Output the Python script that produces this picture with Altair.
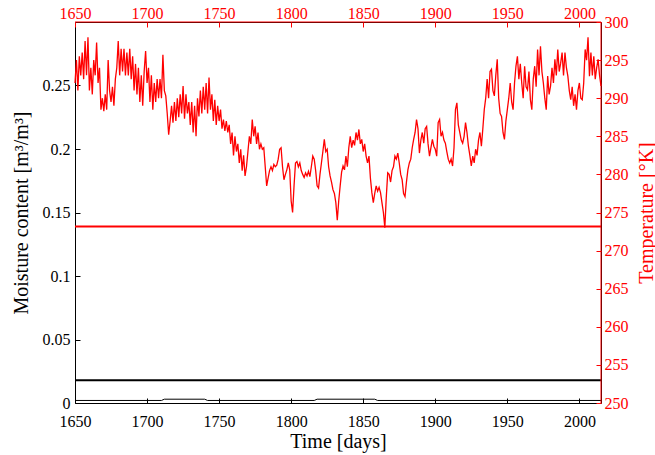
import altair as alt
import pandas as pd

# ---------------- data ----------------
days = list(range(1650, 2016))
temperature = [
    292, 295, 291, 295.5, 293, 296, 292.5, 297.5, 293, 298,
    291, 294, 290.5, 295, 293, 297.3, 292, 294, 288.5, 290,
    288.3, 290.5, 288.5, 295, 291, 289.5, 291.5, 289, 292.5, 294,
    297.5, 293, 296.5, 293.5, 296.5, 293, 296, 293, 296.5, 292.5,
    295.5, 291, 294.5, 290.5, 294, 289.5, 293, 289, 293.5, 296.2,
    292, 294, 289.5, 293, 288.5, 292, 289.5, 292.5, 290, 292.5,
    290, 295.7, 291, 290.3, 288, 285.2, 287, 289, 286.8, 289.5,
    287, 290, 287.5, 290.5, 288, 291.6, 287.3, 290.5, 288, 289.5,
    286.5, 289.5, 285.5, 289, 285, 290, 287.6, 291, 288, 291.5,
    288.5, 292, 288, 292.7, 288.5, 290.5, 287, 289.8, 286.5, 289,
    287, 288.5, 286, 287.2, 285.7, 287, 285.5, 286.5, 284, 285.5,
    282.5, 285, 283, 284, 281.5, 283.3, 280.5, 282.5, 279.8, 281,
    283, 285, 284, 287.2, 285, 286.3, 284, 285.5, 283.3, 284,
    283.3, 283.5, 281, 278.5, 279.5, 280.5, 281, 280.5, 281.3, 281,
    281.2, 282, 283.3, 283.5, 281, 279.3, 280, 280.6, 281.5, 280.6,
    276.5, 275, 278.5, 281.5, 281.7, 281, 281.5, 280.5, 280, 279.6,
    280.2, 279.8, 280.4, 279.7, 281, 282.4, 282, 280.5, 278.5, 278.2,
    280, 281.5, 283, 284.6, 283, 283.3, 281, 279.8, 279, 278,
    277.5, 276.3, 274, 276.5, 278.5, 280.3, 281.1, 280.6, 282.4, 281,
    283.5, 285, 283.5, 284.5, 283.8, 285.5, 284.5, 285.9, 284, 284.6,
    283, 284, 282.4, 281.5, 282.4, 279.5, 277.6, 276.3, 277.5, 278.5,
    277.8, 278.3, 277.6, 276.3, 275, 273, 277, 280.2, 280, 279,
    280.5, 281, 282.4, 282, 282.8, 281.5, 280, 279.3, 277.5, 277.1,
    279, 280.6, 281.5, 282, 283.5, 284.6, 285.5, 287.2, 286, 282.8,
    284.5, 285.5, 284.1, 286, 286.3, 284, 282.4, 283.5, 284.6, 283.7,
    283.3, 282.4, 286.8, 287.2, 285, 285.5, 284.5, 284.1, 283, 282,
    281.5, 282, 281.1, 283.5, 288.5, 289.4, 286.5, 285.5, 284.5, 284.1,
    285, 286.8, 285.5, 283.7, 282.5, 281.1, 282.4, 281.5, 283.3, 282.5,
    284.5, 285.5, 283.7, 286, 288.5, 290, 292.5, 290, 293.5, 293.8,
    291, 290.3, 293, 295.1, 290, 288, 287.6, 285.5, 284.6, 287,
    288.5, 290, 292, 289.5, 288.5, 292, 294.2, 295.5, 292.5, 294.5,
    292, 290, 294.2, 291.5, 291.1, 293.5, 289.8, 288.5, 292.5, 294.2,
    291.5, 296.4, 293, 296.8, 293.5, 292, 290, 288.5, 292.9, 290.5,
    291.6, 294, 292, 295.1, 293, 296.4, 293.5, 294.6, 296, 293,
    296, 294, 292.9, 291, 289.8, 291.5, 289, 290.5, 288.5, 291,
    292, 290, 289.8, 292, 296.4, 295, 298, 292.9, 296, 293,
    295.5, 292.5, 294, 295.1, 293, 291.6,
]
assert len(temperature) == len(days)

moist_days = [1650, 1710, 1712, 1740, 1742, 1816, 1818, 1858, 1860, 2015]
moisture = [0.002, 0.002, 0.003, 0.003, 0.002, 0.002, 0.003, 0.003, 0.002, 0.002]

limit_days = [1650, 2015]
moisture_limit = [0.018, 0.018]
freezing_temp = [273.15, 273.15]

x_ticks = [1650, 1700, 1750, 1800, 1850, 1900, 1950, 2000]
m_ticks = [0, 0.05, 0.1, 0.15, 0.2, 0.25]
t_ticks = [250, 255, 260, 265, 270, 275, 280, 285, 290, 295, 300]

FONT = "Liberation Serif"
RED = "#ff0000"

x_dom = [1650, 2015]
m_dom = [0, 0.3]
t_dom = [250, 300]

# red frame (top and right sides) in data coordinates of the temperature axes
border_day = [x_dom[0], x_dom[1], x_dom[1]]
border_temp = [t_dom[1], t_dom[1], t_dom[0]]

temp_df = pd.DataFrame({"day": days, "temp": temperature})
moist_df = pd.DataFrame({"day": moist_days, "moist": moisture})
mlim_df = pd.DataFrame({"day": limit_days, "moist": moisture_limit})
frz_df = pd.DataFrame({"day": limit_days, "temp": freezing_temp})
border_df = pd.DataFrame({"day": border_day, "temp": border_temp})

common = dict(offset=-5, domain=False, tickSize=5, labelFlush=False,
              labelOverlap=False, grid=False)

# ---------------- moisture (left / bottom) ----------------
x_bottom = alt.X(
    "day:Q",
    scale=alt.Scale(domain=x_dom, nice=False, zero=False),
    axis=alt.Axis(orient="bottom", values=x_ticks, format="d",
                  tickColor="black", labelColor="black", labelPadding=10,
                  title="Time [days]", titleColor="black", titlePadding=2,
                  **common),
)
y_left = alt.Y(
    "moist:Q",
    scale=alt.Scale(domain=m_dom, nice=False),
    axis=alt.Axis(orient="left", values=m_ticks, format=".2~f",
                  tickColor="black", labelColor="black", labelPadding=5,
                  title="Moisture content [m³/m³]", titleColor="black",
                  titlePadding=11, **common),
)

moist_line = alt.Chart(moist_df).mark_line(color="black", strokeWidth=1).encode(
    x=x_bottom, y=y_left)
mlim_line = alt.Chart(mlim_df).mark_line(color="black", strokeWidth=2).encode(
    x=x_bottom, y=y_left)
moist_layer = alt.layer(moist_line, mlim_line)

# ---------------- temperature (right / top) ----------------
x_top = alt.X(
    "day:Q",
    scale=alt.Scale(domain=x_dom, nice=False, zero=False),
    axis=alt.Axis(orient="top", values=x_ticks, format="d",
                  tickColor=RED, labelColor=RED, labelPadding=1, title=None,
                  **common),
)
y_right = alt.Y(
    "temp:Q",
    scale=alt.Scale(domain=t_dom, nice=False, zero=False),
    axis=alt.Axis(orient="right", values=t_ticks, format="d",
                  tickColor=RED, labelColor=RED, labelPadding=3,
                  title="Temperature [°K]", titleColor=RED, titleAngle=270,
                  titleBaseline="top", titlePadding=8, **common),
)

temp_line = alt.Chart(temp_df).mark_line(color=RED, strokeWidth=1.3).encode(
    x=x_top, y=y_right)
frz_line = alt.Chart(frz_df).mark_line(color=RED, strokeWidth=2).encode(
    x=x_top, y=y_right)
border_line = alt.Chart(border_df).mark_line(color=RED, strokeWidth=1).encode(
    x=x_top, y=y_right)
temp_layer = alt.layer(temp_line, frz_line, border_line)

chart = (
    alt.layer(moist_layer, temp_layer)
    .resolve_scale(x="independent", y="independent")
    .properties(
        width=526, height=381,
        padding={"left": 75, "top": 22, "right": 54, "bottom": 52},
        autosize=alt.AutoSizeParams(type="none"),
        background="white",
    )
    .configure_view(stroke="black", strokeWidth=1)
    .configure_axis(labelFont=FONT, titleFont=FONT, labelFontSize=16,
                    titleFontSize=20, titleFontWeight="normal", grid=False,
                    labelOverlap=False)
)

chart.save("out.html", embed_options={"renderer": "svg", "actions": False})
